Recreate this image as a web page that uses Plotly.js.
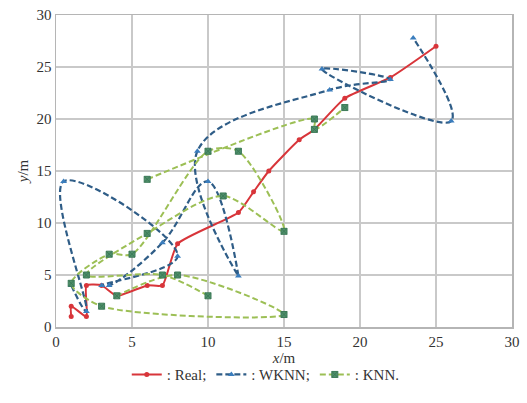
<!DOCTYPE html>
<html>
<head>
<meta charset="utf-8">
<script src="https://cdn.plot.ly/plotly-3.0.1.min.js"></script>
<style>html,body{margin:0;padding:0;background:#fff;}#chart{width:527px;height:403px;}</style>
</head>
<body>
<div id="chart"></div>
<script>
// Real trajectory
var realX = [1, 1, 2, 2, 3, 4, 6, 7, 8, 12, 13, 14, 16, 17, 19, 22, 25];
var realY = [1, 2, 1, 4, 4, 3, 4, 4, 8, 11, 13, 15, 18, 19, 22, 24, 27];
// WKNN estimates
var wknnX = [1, 2, 0.5, 8, 3, 3.5, 7, 10, 12, 9.3, 18, 22, 17.5, 26, 23.5];
var wknnY = [4, 1.5, 14, 6.8, 4, 4, 8.1, 14, 4.9, 16.9, 22.8, 23.8, 24.8, 19.8, 27.8];
// KNN estimates
var knnX = [10, 7, 2, 6, 11, 15, 12, 10, 5, 3.5, 1, 3, 15, 8, 4, null, 6, 17, 17, 19];
var knnY = [3, 5, 5, 9, 12.6, 9.2, 16.9, 16.9, 7, 7, 4.2, 2, 1.2, 5, 3, null, 14.2, 20, 19, 21.1];
var tickVals = [0, 5, 10, 15, 20, 25, 30];
var tickText = ['0', '5', '10', '15', '20', '25', '30'];

var SERIF = '"Liberation Serif", "DejaVu Serif", "Times New Roman", serif';

var traces = [
  {
    x: realX, y: realY, name: ': Real;', type: 'scatter', mode: 'lines+markers',
    line: {color: '#d8353a', width: 2, shape: 'spline', smoothing: 0.5},
    marker: {color: '#d8353a', size: 5, symbol: 'circle'}
  },
  {
    x: wknnX, y: wknnY, name: ': WKNN;', type: 'scatter', mode: 'lines+markers',
    line: {color: '#2f5d87', width: 2.2, dash: '6px,3px', shape: 'spline', smoothing: 1.1},
    marker: {color: '#3a7dbd', size: 6, symbol: 'triangle-up'}
  },
  {
    x: knnX, y: knnY, name: ': KNN.', type: 'scatter', mode: 'lines+markers',
    connectgaps: false,
    line: {color: '#9cbf55', width: 2, dash: '6px,3px', shape: 'spline', smoothing: 0.8},
    marker: {color: '#4f8f6a', size: 6, symbol: 'square-x', line: {color: '#3c7a58', width: 1}}
  }
];

var axisCommon = {
  range: [0, 30], tickvals: tickVals, ticktext: tickText,
  showgrid: true, gridcolor: '#c9c9c9', gridwidth: 1.5,
  showline: true, linecolor: '#b5b5b5', linewidth: 1.5, mirror: true,
  zeroline: false, ticks: '',
  tickfont: {family: SERIF, size: 15, color: '#333'}
};

var layout = {
  width: 527, height: 403,
  margin: {l: 56, r: 15, t: 15, b: 64},
  paper_bgcolor: '#fff', plot_bgcolor: '#fff',
  showlegend: true,
  font: {family: SERIF, color: '#333'},
  xaxis: Object.assign({}, axisCommon, {
    title: {text: '<i>x</i>/m', font: {size: 15, family: SERIF, color: '#333'}, standoff: 2}
  }),
  yaxis: Object.assign({}, axisCommon, {
    title: {text: '<i>y</i>/m', font: {size: 15, family: SERIF, color: '#333'}, standoff: 4}
  }),
  legend: {
    orientation: 'h', x: 0.46, xanchor: 'center', y: -0.1, yanchor: 'top',
    font: {size: 15, family: SERIF, color: '#333'},
    itemwidth: 30, tracegroupgap: 0, bgcolor: 'rgba(0,0,0,0)'
  }
};

Plotly.newPlot('chart', traces, layout, {displayModeBar: false, staticPlot: true});
</script>
</body>
</html>
